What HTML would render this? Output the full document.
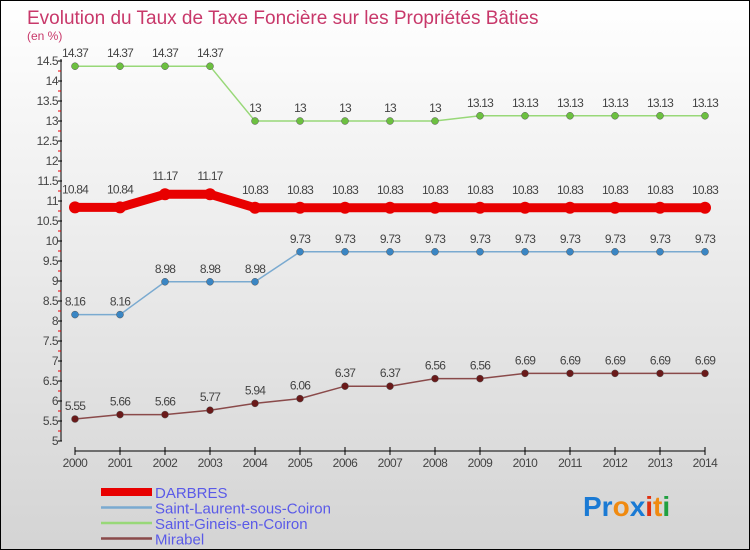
<!DOCTYPE html>
<html><head><meta charset="utf-8"><style>
body{margin:0}
#c{width:748px;height:548px;border:1px solid #000;background:linear-gradient(#fff,#d4d4d4);position:relative;font-family:"Liberation Sans",sans-serif;overflow:hidden}
</style></head><body>
<div id="c">
<svg id="s" width="748" height="548" style="position:absolute;left:0;top:0">
<text x="26" y="23" font-size="19" fill="#c8386a">Evolution du Taux de Taxe Foncière sur les Propriétés Bâties</text>
<text x="26" y="39" font-size="12" fill="#c8386a">(en %)</text>
<g id="axes"></g><g id="series"></g><g id="legend"></g>
<text x="582" y="515" font-size="28" font-weight="bold"><tspan fill="#1a7ad4">Pr</tspan><tspan fill="#f08a10">o</tspan><tspan fill="#1a7ad4">x</tspan><tspan fill="#e03010">i</tspan><tspan fill="#f08a10">t</tspan><tspan fill="#20a040">i</tspan></text>
</svg>
</div>
<script>
const years=[2000,2001,2002,2003,2004,2005,2006,2007,2008,2009,2010,2011,2012,2013,2014];
const yTicks=[5,5.5,6,6.5,7,7.5,8,8.5,9,9.5,10,10.5,11,11.5,12,12.5,13,13.5,14,14.5];
const darbres=[10.84,10.84,11.17,11.17,10.83,10.83,10.83,10.83,10.83,10.83,10.83,10.83,10.83,10.83,10.83];
const stLaurent=[8.16,8.16,8.98,8.98,8.98,9.73,9.73,9.73,9.73,9.73,9.73,9.73,9.73,9.73,9.73];
const stGineis=[14.37,14.37,14.37,14.37,13,13,13,13,13,13.13,13.13,13.13,13.13,13.13,13.13];
const mirabel=[5.55,5.66,5.66,5.77,5.94,6.06,6.37,6.37,6.56,6.56,6.69,6.69,6.69,6.69,6.69];
const names=["DARBRES","Saint-Laurent-sous-Coiron","Saint-Gineis-en-Coiron","Mirabel"];
const NS="http://www.w3.org/2000/svg";
const X=i=>74+i*45, Y=v=>440-(v-5)*40;
function mk(tag,attrs,parent){const e=document.createElementNS(NS,tag);for(const k in attrs)e.setAttribute(k,attrs[k]);parent.appendChild(e);return e;}
const ax=document.getElementById('axes');
let l=mk('line',{x1:60,y1:Y(14.5)-2,x2:60,y2:Y(5),stroke:'#000'},ax);


yTicks.forEach(v=>{
 mk('line',{x1:57,x2:61,y1:Y(v),y2:Y(v),stroke:'#000'},ax);
 if(v>5) mk('line',{x1:57,x2:60,y1:Y(v)+10,y2:Y(v)+10,stroke:'#e00'},ax);
 const t=mk('text',{x:57,y:Y(v)+4,'font-size':12,'text-anchor':'end',fill:'#444','letter-spacing':'-0.5'},ax);
 t.textContent=String(v);
 
 
});
l=mk('line',{x1:X(0),x2:X(14),y1:450,y2:450,stroke:'#000'},ax);


years.forEach((y,i)=>{
 mk('line',{x1:X(i),x2:X(i),y1:446,y2:454,stroke:'#000'},ax);
 const t=mk('text',{x:X(i),y:466,'font-size':12,'text-anchor':'middle',fill:'#444','letter-spacing':'-0.5'},ax);
 t.textContent=y;
 
 
});
const sg=document.getElementById('series');
const defs=[[darbres,'#e80000','#e80000',9,6,'darbres'],[stLaurent,'#7aaad0','#3a86c4',1.5,3.5,'saint-laurent'],[stGineis,'#98d878','#6cc040',1.5,3.5,'saint-gineis'],[mirabel,'#8a4a4a','#6a1a1a',1.5,3.5,'mirabel']];
defs.forEach(([d,lc,pc,w,r,n])=>{
 const p=mk('polyline',{points:d.map((v,i)=>X(i)+','+Y(v)).join(' '),fill:'none',stroke:lc,'stroke-width':w},sg);
 
 
 d.forEach((v,i)=>{
  const c=mk('circle',{cx:X(i),cy:Y(v),r:r,fill:pc,stroke:w>5?'none':'#555','stroke-width':0.5},sg);
  
  
  const t=mk('text',{x:X(i),y:Y(v)-(w>5?14:9),'font-size':12,'text-anchor':'middle',fill:'#444','letter-spacing':'-0.8'},sg);
  t.textContent=String(v);
  
  
 });
});
const lg=document.getElementById('legend');
names.forEach((n,i)=>{
 const y=491+i*15.5;
 const d=defs[i];
 mk('line',{x1:100,x2:151,y1:y,y2:y,stroke:d[1],'stroke-width':i==0?8:2.5},lg);
 const t=mk('text',{x:154,y:y+6,'font-size':15,fill:'#5a5ae8'},lg);
 t.textContent=n;
 
 
});
</script>
</body></html>
